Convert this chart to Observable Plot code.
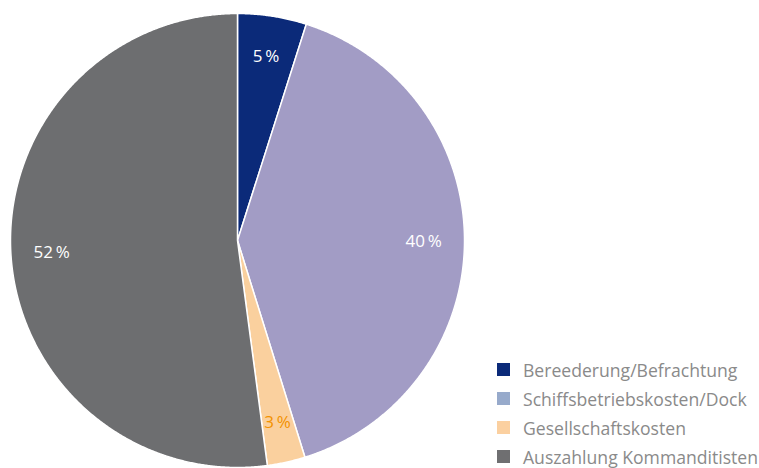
<!DOCTYPE html>
<html>
<head>
<meta charset="utf-8">
<script src="https://cdn.jsdelivr.net/npm/d3@7"></script>
<script src="https://cdn.jsdelivr.net/npm/@observablehq/plot@0.6"></script>
<style>
  html, body { margin: 0; padding: 0; background: #fff; }
  #wrap { position: relative; width: 759px; height: 468px; font-family: "Open Sans", sans-serif; overflow: hidden; }
  #legend { position: absolute; left: 497px; top: 355px; }
  .row { display: flex; align-items: center; height: 29px; }
  .sw { width: 13px; height: 13px; margin-right: 13px; flex: none; }
  .lb { font-size: 17.6px; line-height: 20px; color: #8a8a8a; white-space: nowrap; }
</style>
</head>
<body>
<div id="wrap"><div id="chart"></div><div id="legend"></div></div>
<script>
const categories = ["Bereederung/Befrachtung", "Schiffsbetriebskosten/Dock", "Gesellschaftskosten", "Auszahlung Kommanditisten"];
const shares = [4.9, 40.3, 2.7, 52.1];
const labels = ["5\u2009%", "40\u2009%", "3\u2009%", "52\u2009%"];
const sliceColors = ["#0b2a79", "#a29cc5", "#fad09e", "#6d6e70"];
const legendColors = ["#0b2a79", "#97aacb", "#fbd0a0", "#6f6f71"];
const labelColors = ["#ffffff", "#ffffff", "#f39200", "#ffffff"];

const data = categories.map((c, i) => ({category: c, value: shares[i], label: labels[i], labelColor: labelColors[i]}));
const arcs = d3.pie().sort(null).value(d => d.value)(data);

// polygon points for each slice (unit circle, angle clockwise from top)
const pts = [];
for (const a of arcs) {
  pts.push({category: a.data.category, x: 0, y: 0});
  const n = Math.max(2, Math.ceil((a.endAngle - a.startAngle) / 0.005));
  for (let k = 0; k <= n; k++) {
    const t = a.startAngle + (a.endAngle - a.startAngle) * k / n;
    pts.push({category: a.data.category, x: Math.sin(t), y: Math.cos(t)});
  }
  pts.push({category: a.data.category, x: 0, y: 0});
}
const lr = 0.82;
const labelPts = arcs.map(a => {
  const m = (a.startAngle + a.endAngle) / 2;
  return {label: a.data.label, color: a.data.labelColor, x: lr * Math.sin(m), y: lr * Math.cos(m)};
});

const chart = Plot.plot({
  width: 759,
  height: 468,
  margin: 0,
  x: {domain: [-1, 1], range: [10, 464], axis: null},
  y: {domain: [-1, 1], range: [467, 13], axis: null},
  color: {domain: categories, range: sliceColors},
  marks: [
    Plot.line(pts, {x: "x", y: "y", z: "category", fill: "category", stroke: "#ffffff", strokeWidth: 1.5, strokeLinejoin: "round"}),
    Plot.text(labelPts, {x: "x", y: "y", text: "label", fill: "color", fontSize: 17, fontFamily: "Open Sans, sans-serif"})
  ]
});
document.getElementById("chart").appendChild(chart);

const lg = document.getElementById("legend");
categories.forEach((c, i) => {
  const row = document.createElement("div");
  row.className = "row";
  const sw = document.createElement("div");
  sw.className = "sw";
  sw.style.background = legendColors[i];
  const lb = document.createElement("div");
  lb.className = "lb";
  lb.textContent = c;
  row.appendChild(sw); row.appendChild(lb);
  lg.appendChild(row);
});
</script>
</body>
</html>
